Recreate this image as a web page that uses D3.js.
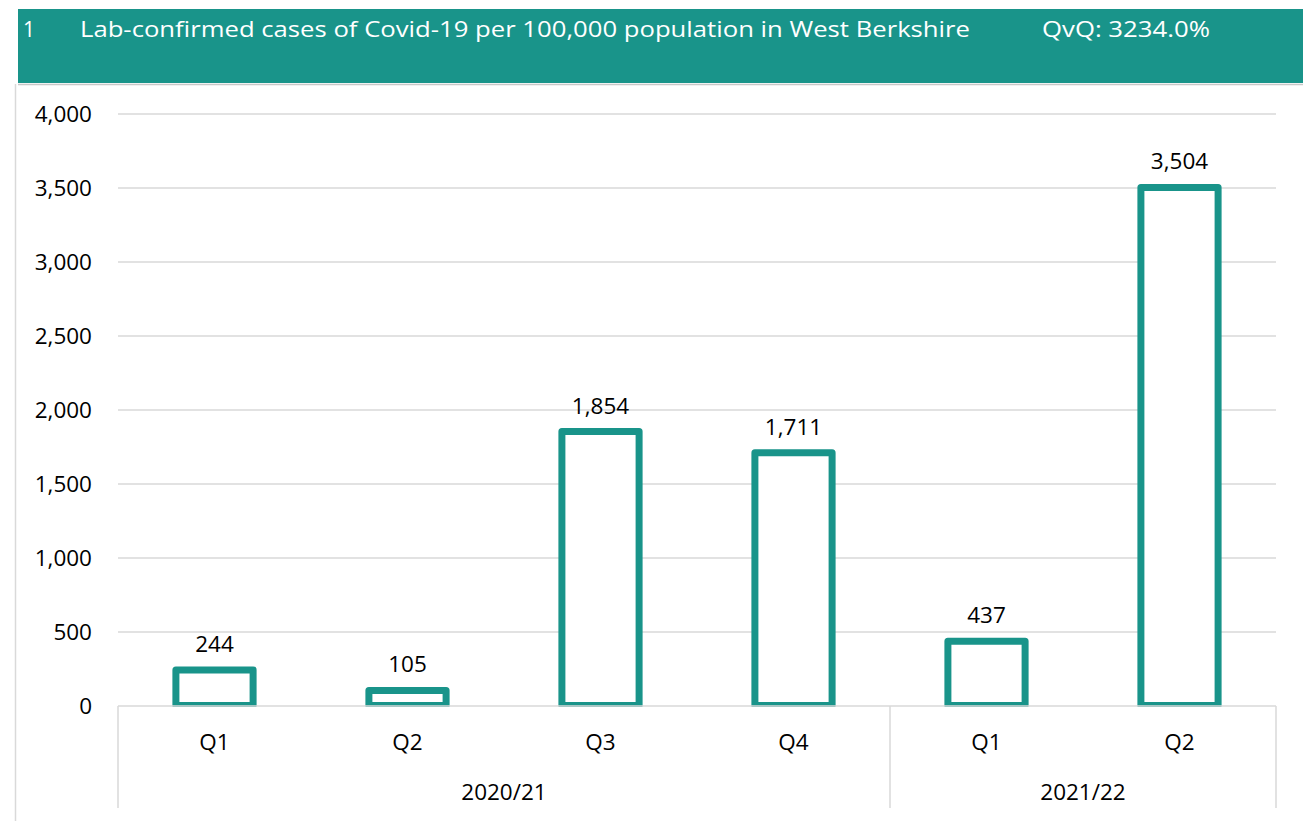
<!DOCTYPE html>
<html>
<head>
<meta charset="utf-8">
<script src="https://cdn.jsdelivr.net/npm/d3@7"></script>
<style>
  body { margin: 0; background: #fff; }
  text { font-family: "Open Sans", sans-serif; }
</style>
</head>
<body>
<script>
var quarters = ['Q1', 'Q2', 'Q3', 'Q4', 'Q1', 'Q2'];
var years = ['2020/21', '2020/21', '2020/21', '2020/21', '2021/22', '2021/22'];
var cases = [244, 105, 1854, 1711, 437, 3504];
var yTicks = [0, 500, 1000, 1500, 2000, 2500, 3000, 3500, 4000];
var titleNo = '1';
var titleText = 'Lab-confirmed cases of Covid-19 per 100,000 population in West Berkshire';
var qvqText = 'QvQ: 3234.0%';

var width = 1303, height = 821;
var teal = '#19948a', grid = '#d9d9d9';
var plotLeft = 118, plotRight = 1276, plotTop = 114, base = 706, plotBottom = 808;
var fs = 22.5;

var svg = d3.select('body').append('svg')
  .attr('width', width).attr('height', height);

// header band
svg.append('rect').attr('x', 18).attr('y', 9).attr('width', width - 18).attr('height', 74).attr('fill', teal);
svg.append('line').attr('x1', 18).attr('x2', width).attr('y1', 84.5).attr('y2', 84.5)
  .attr('stroke', '#c8c8c8').attr('stroke-width', 1.5);
svg.append('line').attr('x1', 15.5).attr('x2', 15.5).attr('y1', 84).attr('y2', height)
  .attr('stroke', grid).attr('stroke-width', 1.5);

svg.append('text').attr('x', 23).attr('y', 37).attr('fill', '#fff')
  .attr('font-size', 21).text(titleNo);
svg.append('text').attr('x', 80).attr('y', 37).attr('fill', '#fff')
  .attr('font-size', 21).attr('textLength', 890).attr('lengthAdjust', 'spacingAndGlyphs')
  .text(titleText);
svg.append('text').attr('x', 1042).attr('y', 37).attr('fill', '#fff')
  .attr('font-size', 21).attr('textLength', 168).attr('lengthAdjust', 'spacingAndGlyphs')
  .text(qvqText);

var x = d3.scaleBand().domain(d3.range(cases.length)).range([plotLeft, plotRight])
  .paddingInner(0.6).paddingOuter(0.3);
var y = d3.scaleLinear().domain([0, 4000]).range([base, plotTop]);

// gridlines
svg.append('g').selectAll('line').data(yTicks.slice(1)).enter().append('line')
  .attr('x1', plotLeft).attr('x2', plotRight)
  .attr('y1', function (d) { return y(d); }).attr('y2', function (d) { return y(d); })
  .attr('stroke', grid).attr('stroke-width', 1.5);

// y axis labels
var yAxis = d3.axisLeft(y).tickValues(yTicks).tickSize(0).tickPadding(0)
  .tickFormat(d3.format(','));
svg.append('g').attr('transform', 'translate(92,0)').call(yAxis)
  .call(function (g) { g.select('.domain').remove(); })
  .selectAll('text').attr('font-size', fs).attr('fill', '#000')
  .attr('font-family', '"Open Sans", sans-serif');

// bars
svg.append('clipPath').attr('id', 'plot').append('rect')
  .attr('x', 0).attr('y', 0).attr('width', width).attr('height', base + 1);

svg.append('g').attr('clip-path', 'url(#plot)').selectAll('rect').data(cases).enter().append('rect')
  .attr('x', function (d, i) { return x(i); })
  .attr('y', function (d) { return y(d); })
  .attr('width', x.bandwidth())
  .attr('height', function (d) { return y(0) - y(d) - 0.5; })
  .attr('fill', '#fff').attr('stroke', teal).attr('stroke-width', 7)
  .attr('stroke-linejoin', 'round');

// value labels
svg.append('g').selectAll('text').data(cases).enter().append('text')
  .attr('x', function (d, i) { return x(i) + x.bandwidth() / 2; })
  .attr('y', function (d) { return y(d) - 18; })
  .attr('text-anchor', 'middle').attr('font-size', fs).attr('fill', '#000')
  .text(function (d) { return d3.format(',')(d); });

// category axis
svg.append('line').attr('x1', plotLeft).attr('x2', plotRight).attr('y1', base).attr('y2', base)
  .attr('stroke', grid).attr('stroke-width', 1.5);

var groups = [];
years.forEach(function (yr, i) {
  var last = groups[groups.length - 1];
  if (last && last.name === yr) last.end = i;
  else groups.push({ name: yr, start: i, end: i });
});

var step = x.step();
function edge(i) { return plotLeft + i * step; }

var seps = [0];
groups.forEach(function (g) { seps.push(g.end + 1); });
svg.append('g').selectAll('line').data(seps).enter().append('line')
  .attr('x1', function (d) { return edge(d); }).attr('x2', function (d) { return edge(d); })
  .attr('y1', base).attr('y2', plotBottom)
  .attr('stroke', grid).attr('stroke-width', 1.5);

svg.append('g').selectAll('text').data(quarters).enter().append('text')
  .attr('x', function (d, i) { return x(i) + x.bandwidth() / 2; })
  .attr('y', 750)
  .attr('text-anchor', 'middle').attr('font-size', fs).attr('fill', '#000')
  .text(function (d) { return d; });

svg.append('g').selectAll('text').data(groups).enter().append('text')
  .attr('x', function (g) { return (edge(g.start) + edge(g.end + 1)) / 2; })
  .attr('y', 800)
  .attr('text-anchor', 'middle').attr('font-size', fs).attr('fill', '#000')
  .text(function (g) { return g.name; });
</script>
</body>
</html>
